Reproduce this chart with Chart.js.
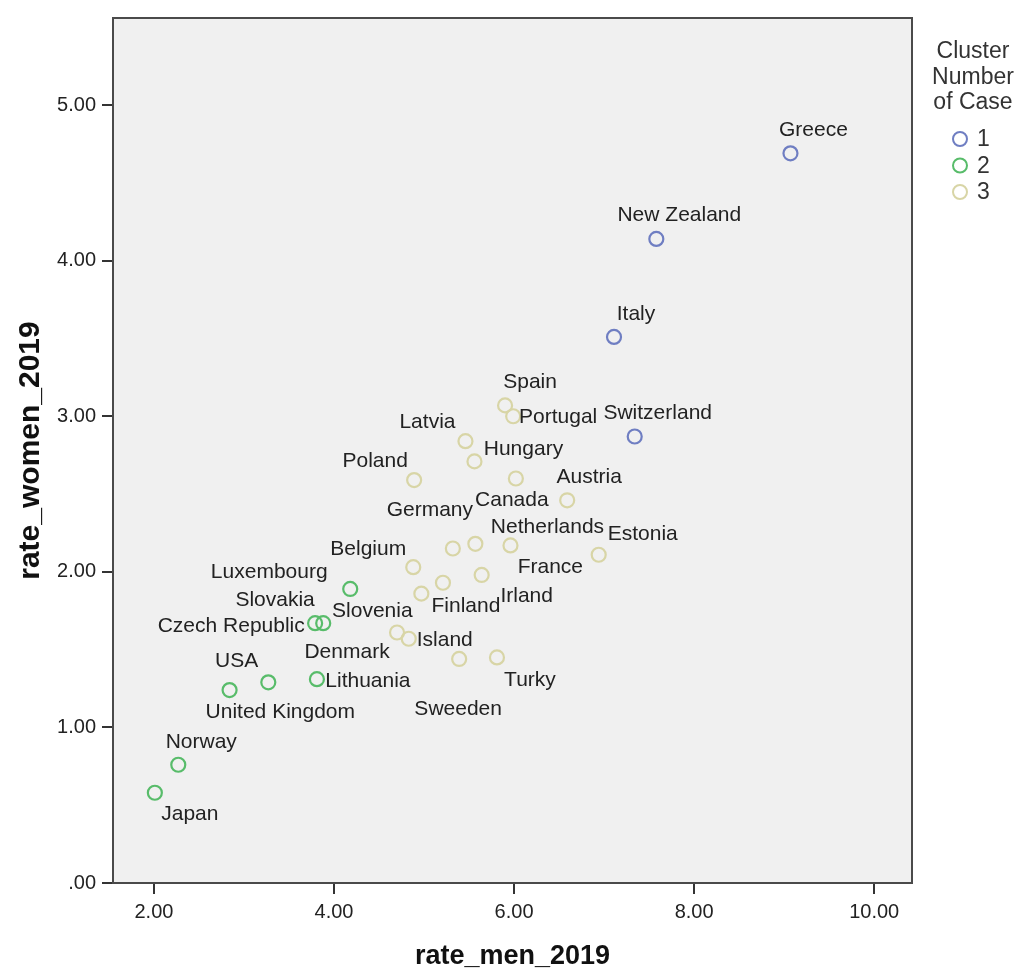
<!DOCTYPE html>
<html>
<head>
<meta charset="utf-8">
<script src="https://cdn.jsdelivr.net/npm/chart.js@4.4.1/dist/chart.umd.min.js"></script>
<style>
    html, body { margin: 0; padding: 0; background: #fff; }
    #wrap { width: 1021px; height: 974px; position: relative; }
</style>
</head>
<body>
<div id="wrap"><canvas id="clusterChart"></canvas></div>
<script>
// Cluster 1
const cluster1Names = ['Greece', 'New Zealand', 'Italy', 'Switzerland'];
const cluster1Men = [9.07, 7.58, 7.11, 7.34];
const cluster1Women = [4.69, 4.14, 3.51, 2.87];

// Cluster 2
const cluster2Names = ['Luxembourg', 'Slovakia', 'Czech Republic', 'USA', 'United Kingdom', 'Lithuania', 'Norway', 'Japan'];
const cluster2Men = [4.18, 3.79, 3.88, 2.84, 3.27, 3.81, 2.27, 2.01];
const cluster2Women = [1.89, 1.67, 1.67, 1.24, 1.29, 1.31, 0.76, 0.58];

// Cluster 3
const cluster3Names = ['Spain', 'Portugal', 'Latvia', 'Hungary', 'Poland', 'Canada', 'Austria', 'Germany',
    'Netherlands', 'Estonia', 'Belgium', 'France', 'Irland', 'Finland', 'Slovenia', 'Denmark', 'Island',
    'Sweeden', 'Turky'];
const cluster3Men = [5.90, 5.99, 5.46, 5.56, 4.89, 6.02, 6.59, 5.32, 5.96, 6.94, 4.88, 5.57, 5.64, 5.21,
    4.97, 4.70, 4.83, 5.39, 5.81];
const cluster3Women = [3.07, 3.00, 2.84, 2.71, 2.59, 2.60, 2.46, 2.15, 2.17, 2.11, 2.03, 2.18, 1.98, 1.93,
    1.86, 1.61, 1.57, 1.44, 1.45];

const clusterLabels = ['1', '2', '3'];
const xTicks = [2, 4, 6, 8, 10];
const yTicks = [0, 1, 2, 3, 4, 5];

// where each country name sits relative to its point (px)
const labelOffsets = [
    [[23, -23], [23, -24], [22, -23], [23, -23]],
    [[-81, -17], [-40, -23], [-92, 3], [7, -29], [12, 30], [51, 2], [23, -23], [35, 21]],
    [[25, -23], [45, 1], [-38, -19], [49, -12], [-39, -19], [-4, 22], [22, -23], [-23, -38],
     [37, -18], [44, -21], [-45, -18], [75, 23], [45, 21], [23, 23], [-49, 18], [-50, 20],
     [36, 1], [-1, 50], [33, 23]]
];

const FONT = "'Liberation Sans', Arial, sans-serif";
const colors = ['#6f7ec2', '#58bc6a', '#d8d5a6'];

function toPoints(xs, ys) {
    return xs.map((x, i) => ({ x: x, y: ys[i] }));
}

const plotBackground = {
    id: 'plotBackground',
    beforeDraw(chart) {
        const { ctx, chartArea: a } = chart;
        ctx.save();
        ctx.fillStyle = '#f0f0f0';
        ctx.fillRect(a.left, a.top, a.right - a.left, a.bottom - a.top);
        ctx.restore();
    },
    afterDraw(chart) {
        const { ctx, chartArea: a } = chart;
        ctx.save();
        ctx.strokeStyle = '#4a4a4a';
        ctx.lineWidth = 2;
        ctx.strokeRect(a.left, a.top, a.right - a.left, a.bottom - a.top);
        ctx.restore();
    }
};

const countryLabels = {
    id: 'countryLabels',
    afterDatasetsDraw(chart) {
        const ctx = chart.ctx;
        ctx.save();
        ctx.font = '21px ' + FONT;
        ctx.fillStyle = '#222';
        ctx.textAlign = 'center';
        ctx.textBaseline = 'middle';
        chart.data.datasets.forEach((ds, di) => {
            const meta = chart.getDatasetMeta(di);
            meta.data.forEach((pt, i) => {
                const off = labelOffsets[di][i];
                ctx.fillText(ds.names[i], pt.x + off[0], pt.y + off[1]);
            });
        });
        ctx.restore();
    }
};

// SPSS style legend with a three line title
const clusterLegend = {
    id: 'clusterLegend',
    afterDraw(chart) {
        const ctx = chart.ctx;
        ctx.save();
        ctx.font = '23px ' + FONT;
        ctx.fillStyle = '#333';
        ctx.textAlign = 'center';
        ctx.textBaseline = 'middle';
        ['Cluster', 'Number', 'of Case'].forEach((t, i) => ctx.fillText(t, 973, 52 + i * 25.5));
        ctx.textAlign = 'left';
        chart.data.datasets.forEach((ds, i) => {
            const y = 139 + i * 26.5;
            ctx.beginPath();
            ctx.arc(960, y, 7, 0, Math.PI * 2);
            ctx.strokeStyle = ds.borderColor;
            ctx.lineWidth = 2;
            ctx.stroke();
            ctx.fillStyle = '#333';
            ctx.fillText(ds.label, 977, y + 1);
        });
        ctx.restore();
    }
};

const datasets = [
    { label: clusterLabels[0], names: cluster1Names, data: toPoints(cluster1Men, cluster1Women) },
    { label: clusterLabels[1], names: cluster2Names, data: toPoints(cluster2Men, cluster2Women) },
    { label: clusterLabels[2], names: cluster3Names, data: toPoints(cluster3Men, cluster3Women) }
].map((d, i) => Object.assign(d, {
    borderColor: colors[i],
    backgroundColor: 'rgba(0,0,0,0)',
    pointRadius: 7,
    pointBorderWidth: 2.2,
    pointHoverRadius: 7
}));

new Chart(document.getElementById('clusterChart'), {
    type: 'scatter',
    data: { datasets: datasets },
    options: {
        responsive: true,
        maintainAspectRatio: false,
        animation: false,
        layout: { padding: { top: 16, right: 109, left: 0, bottom: 0 } },
        plugins: {
            legend: { display: false },
            tooltip: { enabled: false }
        },
        scales: {
            x: {
                type: 'linear',
                min: 1.545,
                max: 10.42,
                afterBuildTicks: s => { s.ticks = xTicks.map(v => ({ value: v })); },
                afterFit: s => { s.height = 91; },
                border: { display: false },
                grid: { drawOnChartArea: false, drawTicks: true, tickLength: 11, color: '#333', lineWidth: 2 },
                ticks: {
                    color: '#222',
                    padding: 6,
                    font: { family: FONT, size: 20 },
                    callback: v => v.toFixed(2)
                },
                title: {
                    display: true,
                    text: 'rate_men_2019',
                    color: '#111',
                    font: { family: FONT, size: 27, weight: 'bold' },
                    padding: { top: 0, bottom: 1 }
                }
            },
            y: {
                type: 'linear',
                min: 0,
                max: 5.56,
                afterBuildTicks: s => { s.ticks = yTicks.map(v => ({ value: v })); },
                afterFit: s => { s.width = 113; },
                border: { display: false },
                grid: { drawOnChartArea: false, drawTicks: true, tickLength: 11, color: '#333', lineWidth: 2 },
                ticks: {
                    color: '#222',
                    padding: 6,
                    font: { family: FONT, size: 20 },
                    callback: v => v === 0 ? '.00' : v.toFixed(2)
                },
                title: {
                    display: true,
                    text: 'rate_women_2019',
                    color: '#111',
                    font: { family: FONT, size: 30, weight: 'bold' },
                    padding: { top: 13, bottom: 0 }
                }
            }
        }
    },
    plugins: [plotBackground, countryLabels, clusterLegend]
});
</script>
</body>
</html>
